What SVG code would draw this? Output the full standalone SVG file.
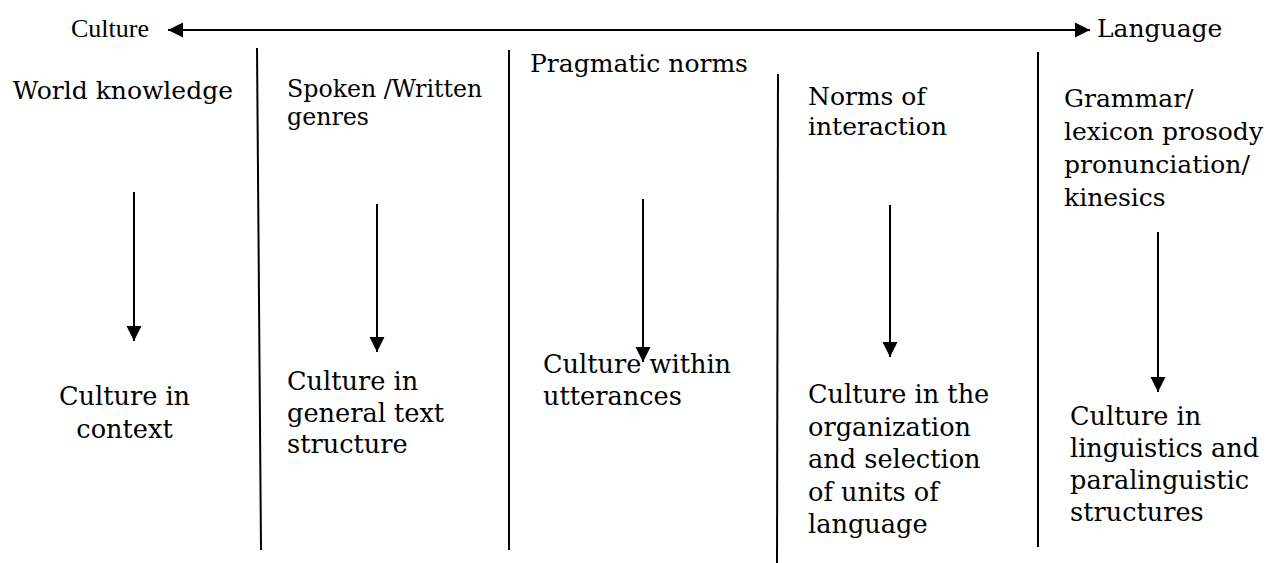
<svg xmlns="http://www.w3.org/2000/svg" width="1275" height="563" viewBox="0 0 1275 563">
<style>
.t{font-family:"DejaVu Serif","Liberation Serif",serif;font-size:25px;fill:#000}
.b{font-size:25.6px}
.s{font-size:23.7px}
.tt{font-family:"Liberation Serif","Times New Roman",serif;font-size:26px;fill:#000}
.ln{stroke:#000;stroke-width:2;fill:none}
.ar{stroke:#000;stroke-width:2;fill:none;marker-end:url(#ah)}
</style>
<defs>
<marker id="ah" markerUnits="userSpaceOnUse" markerWidth="16" markerHeight="16" viewBox="0 0 16 15" refX="15" refY="7.5" orient="auto-start-reverse">
<path d="M0,0 L15,7.5 L0,15 z" fill="#000"/>
</marker>
</defs>
<g id="axis">
<text class="tt" x="71" y="37">Culture</text>
<text class="t" x="1097" y="37">Language</text>
</g>
<g id="connectors">
<path class="ar" d="M168,30 H1090" marker-start="url(#ah)"/>
<path class="ln" d="M257,48 L261,550"/>
<path class="ln" d="M509,50 L509,550"/>
<path class="ln" d="M778,74 L777,563"/>
<path class="ln" d="M1038,52 L1038,547"/>
<path class="ar" d="M134,192 V341"/>
<path class="ar" d="M377,204 V352"/>
<path class="ar" d="M643,199 V362"/>
<path class="ar" d="M890,205 V357"/>
<path class="ar" d="M1158,232 V392"/>
</g>
<g id="col1">
<text class="t" x="12.7" y="99">World knowledge</text>
<text class="t b" x="124.5" y="405" text-anchor="middle">Culture in</text>
<text class="t b" x="124.5" y="438" text-anchor="middle">context</text>
</g>
<g id="col2">
<text class="t s" x="287" y="97">Spoken /Written</text>
<text class="t s" x="287" y="125">genres</text>
<text class="t b" x="287" y="390">Culture in</text>
<text class="t b" x="287" y="422">general text</text>
<text class="t b" x="287" y="453">structure</text>
</g>
<g id="col3">
<text class="t" x="530" y="72">Pragmatic norms</text>
<text class="t b" x="543" y="373">Culture within</text>
<text class="t b" x="543" y="405">utterances</text>
</g>
<g id="col4">
<text class="t" x="808" y="105">Norms of</text>
<text class="t" x="808" y="135">interaction</text>
<text class="t b" x="808" y="403">Culture in the</text>
<text class="t b" x="808" y="435.5">organization</text>
<text class="t b" x="808" y="468">and selection</text>
<text class="t b" x="808" y="500.5">of units of</text>
<text class="t b" x="808" y="533">language</text>
</g>
<g id="col5">
<text class="t" x="1064" y="107">Grammar/</text>
<text class="t" x="1064" y="140">lexicon prosody</text>
<text class="t" x="1064" y="173">pronunciation/</text>
<text class="t" x="1064" y="206">kinesics</text>
<text class="t b" x="1070" y="425">Culture in</text>
<text class="t b" x="1070" y="457">linguistics and</text>
<text class="t b" x="1070" y="489">paralinguistic</text>
<text class="t b" x="1070" y="521">structures</text>
</g>
</svg>
